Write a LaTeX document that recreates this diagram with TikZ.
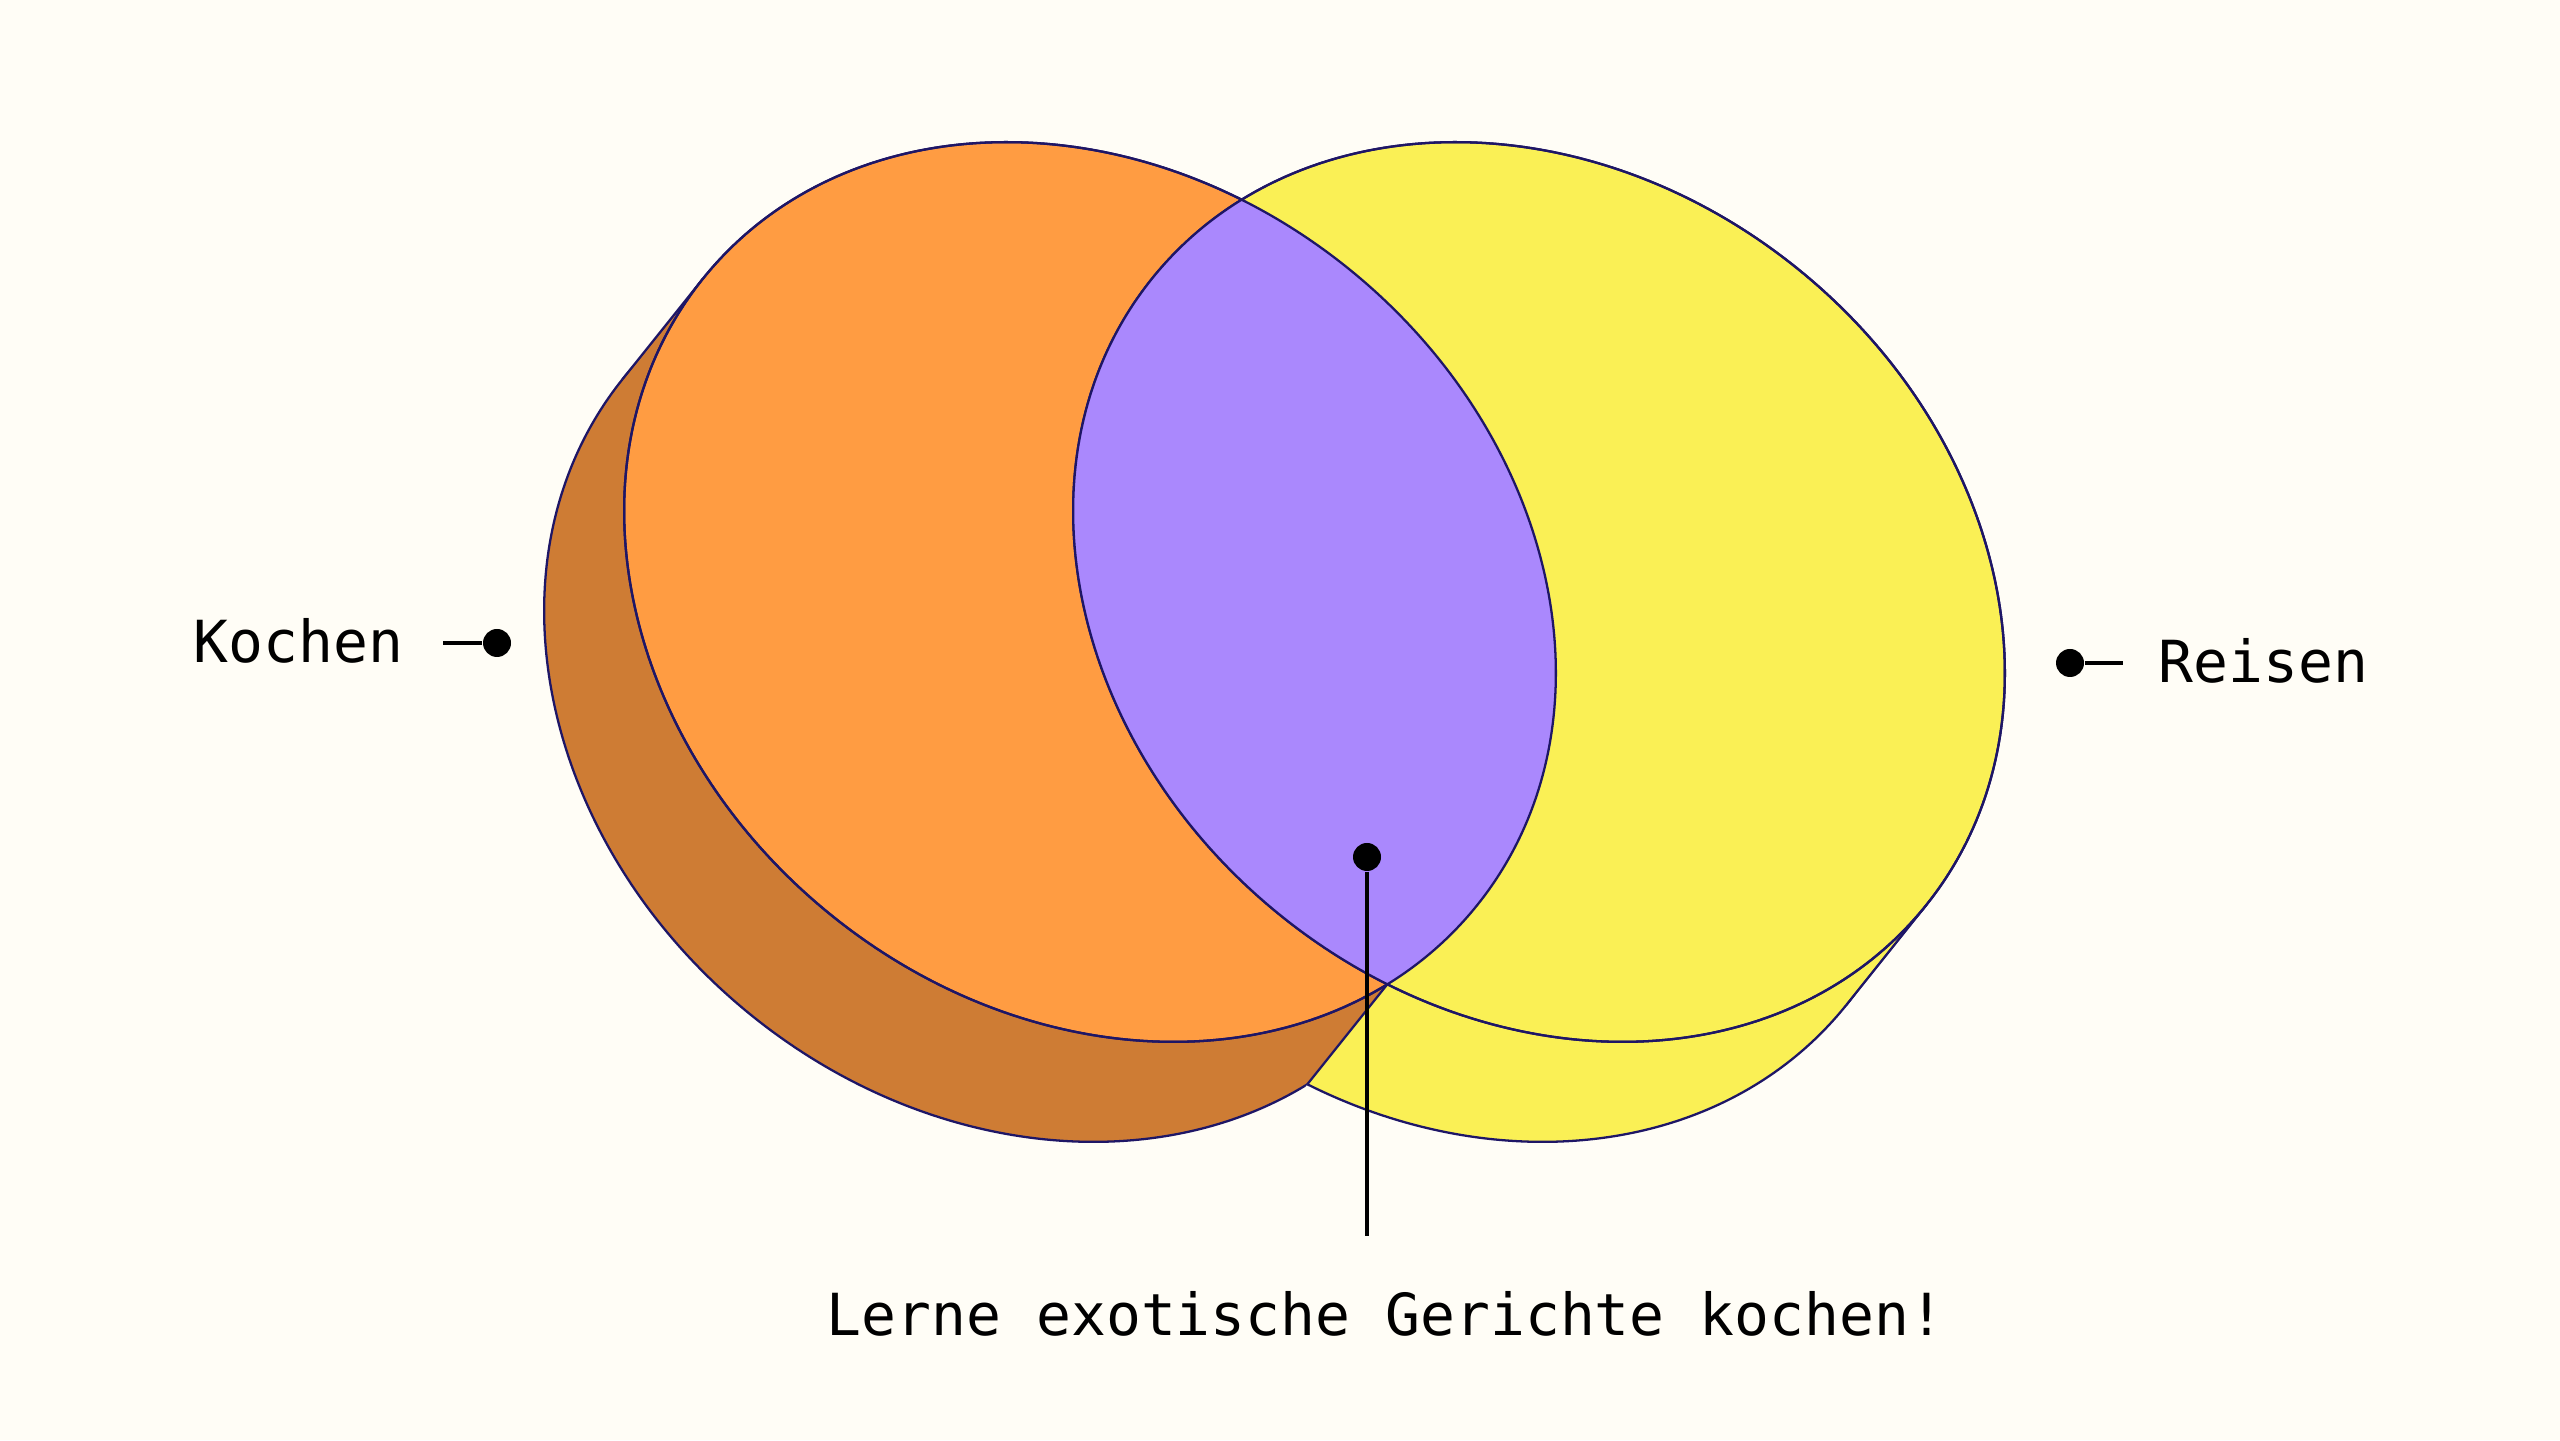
\documentclass[tikz,border=0pt]{standalone}
\usepackage{fontspec}
\newfontfamily\tagfont{DejaVu Sans Mono}
\usetikzlibrary{calc}
\definecolor{paper}{HTML}{FFFDF6}
\definecolor{rimblue}{HTML}{1E1666}
\definecolor{kochorange}{HTML}{FF9C42}
\definecolor{kochbrown}{HTML}{CE7C34}
\definecolor{reisgelb}{HTML}{FAF055}
\definecolor{lila}{HTML}{AA88FD}
\newcommand{\lobea}{4.98}
\newcommand{\lobeb}{4.14}
\tikzset{
  rim/.style={draw=rimblue, line width=0.65pt},
  lobe/.style={shift={(#1)}, rotate=-39.5},
  leader/.style={line width=1.3pt},
  dot/.style={circle, fill=black, inner sep=0pt, minimum size=0.28cm},
  tag/.style={font=\tagfont\fontsize{16.5}{20}\selectfont, inner sep=0pt},
}
\begin{document}
\begin{tikzpicture}
	\useasboundingbox (0,0) rectangle (25.6,14.4);
	\fill[paper] (0,0) rectangle (25.6,14.4);

	% centres of the two sets, front face and back face
	\coordinate (kc) at (10.90,8.48);
	\coordinate (rc) at (15.39,8.48);
	\coordinate (kb) at ($(kc)+(-0.8,-1)$);
	\coordinate (rb) at ($(rc)+(-0.8,-1)$);
	% tangent points of the side walls
	\foreach \c in {kc,rc,kb,rb} {
		\path[lobe=\c] (0.7:\lobea cm and \lobeb cm) coordinate (\c1)
			(180.7:\lobea cm and \lobeb cm) coordinate (\c2);
	}
	% lower crossing of the front faces
	\coordinate (cross) at (13.874,4.558);
	\coordinate (crossb) at ($(cross)+(-0.8,-1)$);

	% side wall: Reisen
	\filldraw[rim, fill=reisgelb, lobe=rb] (0,0) ellipse [x radius=\lobea, y radius=\lobeb];
	\fill[reisgelb] (rc1) -- (rc2) -- (rb2) -- (rb1) -- cycle;
	\draw[rim] (rc1) -- (rb1) (rc2) -- (rb2);

	% side wall: Kochen, left of the crease
	\begin{scope}
		\clip ($(cross)!-10!(crossb)$) -- ($(cross)!6!(crossb)$) -- ++(-20,0) -- ++(0,20) -- cycle;
		\filldraw[rim, fill=kochbrown, lobe=kb] (0,0) ellipse [x radius=\lobea, y radius=\lobeb];
		\fill[kochbrown] (kc1) -- (kc2) -- (kb2) -- (kb1) -- cycle;
		\draw[rim] (kc1) -- (kb1) (kc2) -- (kb2);
	\end{scope}
	\draw[rim] (cross) -- (crossb);

	% front faces
	\filldraw[rim, fill=kochorange, lobe=kc] (0,0) ellipse [x radius=\lobea, y radius=\lobeb];
	\filldraw[rim, fill=reisgelb, lobe=rc] (0,0) ellipse [x radius=\lobea, y radius=\lobeb];
	\begin{scope}
		\clip[lobe=kc] (0,0) ellipse [x radius=\lobea, y radius=\lobeb];
		\fill[lila, lobe=rc] (0,0) ellipse [x radius=\lobea, y radius=\lobeb];
	\end{scope}
	\draw[rim, lobe=kc] (0,0) ellipse [x radius=\lobea, y radius=\lobeb];
	\draw[rim, lobe=rc] (0,0) ellipse [x radius=\lobea, y radius=\lobeb];

	% labels
	\node[tag, anchor=base east] (koch) at (4.04,7.77) {Kochen};
	\node[dot] (kochdot) at (4.97,7.97) {};
	\coordinate (kochend) at (4.43,7.97);
	\draw[leader] (kochend) -- (kochdot);

	\node[tag, anchor=base west] (reis) at (21.58,7.57) {Reisen};
	\node[dot] (reisdot) at (20.70,7.77) {};
	\coordinate (reisend) at (21.23,7.77);
	\draw[leader] (reisdot) -- (reisend);

	\node[tag, anchor=base] (lerne) at (13.855,1.05) {Lerne exotische Gerichte kochen!};
	\node[dot] (lernedot) at (13.67,5.83) {};
	\coordinate (lerneend) at (13.67,2.04);
	\draw[leader] (lernedot) -- (lerneend);
\end{tikzpicture}
\end{document}
